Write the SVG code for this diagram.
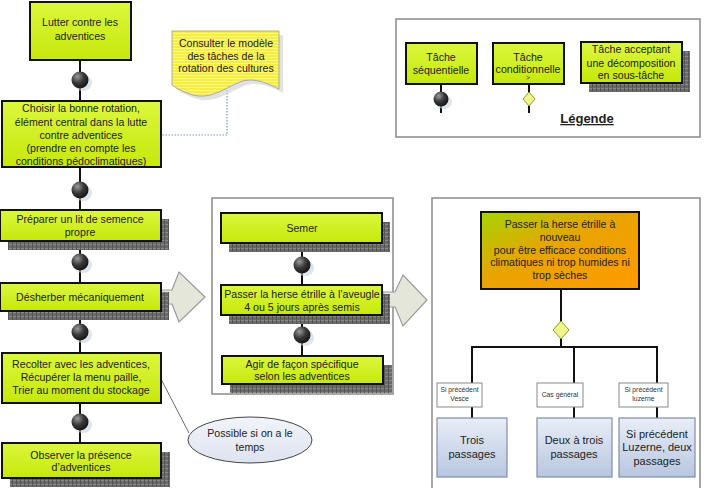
<svg xmlns="http://www.w3.org/2000/svg" width="707" height="488" viewBox="0 0 707 488">
<defs>
<linearGradient id="gTask" x1="0" y1="0" x2="0" y2="1">
<stop offset="0" stop-color="#dcf73e"/>
<stop offset="1" stop-color="#c6e80a"/>
</linearGradient>
<linearGradient id="gOrange" x1="0" y1="0" x2="1" y2="1">
<stop offset="0" stop-color="#a6d400"/>
<stop offset="0.45" stop-color="#e8a400"/>
<stop offset="1" stop-color="#ff9a00"/>
</linearGradient>
<linearGradient id="gBlue" x1="0" y1="0" x2="0" y2="1">
<stop offset="0" stop-color="#e9eef7"/>
<stop offset="1" stop-color="#b7c6df"/>
</linearGradient>
<linearGradient id="gEll" x1="0" y1="0" x2="0" y2="1">
<stop offset="0" stop-color="#f2f4fa"/>
<stop offset="1" stop-color="#dde3f0"/>
</linearGradient>
<radialGradient id="gBead" cx="0.35" cy="0.3" r="0.75">
<stop offset="0" stop-color="#9a9a9a"/>
<stop offset="0.5" stop-color="#3a3a3a"/>
<stop offset="1" stop-color="#111"/>
</radialGradient>
<pattern id="pShadow" width="4" height="4" patternUnits="userSpaceOnUse">
<rect width="4" height="4" fill="#6a6a6a"/>
<rect width="4" height="1" fill="#8a8a8a"/>
<rect width="1" height="4" fill="#555"/>
</pattern>
<pattern id="pNote" width="4" height="3" patternUnits="userSpaceOnUse">
<rect width="4" height="3" fill="#f7ee3a"/>
<rect width="4" height="1" fill="#fbf590"/>
</pattern>
</defs>
<style>
.task{fill:url(#gTask);stroke:#111;stroke-width:2}
.shadow{fill:url(#pShadow)}
.t{font-family:"Liberation Sans",Arial,sans-serif;font-size:10.6px;fill:#222;text-anchor:middle}
.ts{font-family:"Liberation Sans",Arial,sans-serif;font-size:6.8px;fill:#333;text-anchor:middle}
.tb{font-family:"Liberation Sans",Arial,sans-serif;font-size:11px;fill:#222;text-anchor:middle}
.ln{stroke:#111;stroke-width:2;fill:none}
.cont{fill:#fff;stroke:#8a8a8a;stroke-width:1.5}
.bead{fill:url(#gBead)}
.beadsh{fill:#c9d0dc;opacity:0.6}
.dia{fill:#eef58a;stroke:#8a9a20;stroke-width:1}
.blue{fill:url(#gBlue);stroke:#7f8ea8;stroke-width:1.2}
.lab{fill:#fff;stroke:#8a8a8a;stroke-width:1}
.arrow{fill:#e4e6da;stroke:#9a9a9a;stroke-width:1.2}
</style>

<g id="containers">
<rect class="cont" x="396" y="19" width="304" height="118"/>
<rect class="cont" x="212" y="198" width="181" height="196"/>
<rect class="cont" x="432" y="198" width="268" height="292"/>
</g>

<g id="connectors">
<line class="ln" x1="80" y1="60" x2="80" y2="101"/>
<line class="ln" x1="80" y1="167" x2="80" y2="210"/>
<line class="ln" x1="80" y1="241" x2="80" y2="283"/>
<line class="ln" x1="80" y1="311" x2="80" y2="353"/>
<line class="ln" x1="80" y1="403" x2="80" y2="443"/>
<line class="ln" x1="302" y1="243" x2="302" y2="285"/>
<line class="ln" x1="302" y1="315" x2="302" y2="356"/>
<line class="ln" x1="561" y1="289" x2="561" y2="347"/>
<polyline class="ln" points="472,383 472,347 657,347 657,383"/>
<line class="ln" x1="574" y1="347" x2="574" y2="383"/>
<line class="ln" x1="472" y1="407" x2="472" y2="418"/>
<line class="ln" x1="574" y1="407" x2="574" y2="418"/>
<line class="ln" x1="657" y1="407" x2="657" y2="418"/>
<line class="ln" x1="441" y1="84" x2="441" y2="113"/>
<line class="ln" x1="529" y1="84" x2="529" y2="113"/>
<polyline points="227,90 227,135 161,135" fill="none" stroke="#7f93b8" stroke-width="1.2" stroke-dasharray="1.5,1.5"/>
<line x1="161" y1="379" x2="189" y2="433" stroke="#444" stroke-width="0.8"/>
<polygon class="arrow" points="161,290 172,290 179,272 205,297 179,322 172,304 161,304"/>
<polygon class="arrow" points="383,292 395,292 403,275 427,300 403,326 395,307 383,307"/>
</g>

<g id="beads">
<g transform="translate(80,80)"><ellipse class="beadsh" cx="3" cy="3" rx="9" ry="8"/><circle class="bead" r="8.5"/></g>
<g transform="translate(80,190)"><ellipse class="beadsh" cx="3" cy="3" rx="9" ry="8"/><circle class="bead" r="8.5"/></g>
<g transform="translate(80,262)"><ellipse class="beadsh" cx="3" cy="3" rx="9" ry="8"/><circle class="bead" r="8.5"/></g>
<g transform="translate(80,332)"><ellipse class="beadsh" cx="3" cy="3" rx="9" ry="8"/><circle class="bead" r="8.5"/></g>
<g transform="translate(80,422)"><ellipse class="beadsh" cx="3" cy="3" rx="9" ry="8"/><circle class="bead" r="8.5"/></g>
<g transform="translate(302,265)"><ellipse class="beadsh" cx="3" cy="3" rx="9" ry="8"/><circle class="bead" r="8.5"/></g>
<g transform="translate(302,335)"><ellipse class="beadsh" cx="3" cy="3" rx="9" ry="8"/><circle class="bead" r="8.5"/></g>
<g transform="translate(441,99)"><ellipse class="beadsh" cx="3" cy="3" rx="8" ry="7"/><circle class="bead" r="7.5"/></g>
<polygon class="dia" points="561,321 569,330 561,339 553,330"/>
<polygon class="dia" points="529,92 535,99 529,106 523,99"/>
</g>

<g id="n1">
<rect class="task" x="30" y="2" width="101" height="58"/>
<text class="t" x="80" y="26">Lutter contre les</text>
<text class="t" x="80" y="40">adventices</text>
</g>

<g id="note">
<path d="M176,35 H283 V93 C266,84 254,82 244,86 C229,92 214,104 197,99 C187,96 180,92 176,89 Z" fill="#cfcfcf" opacity="0.6"/>
<path d="M172,31 H279 V89 C262,80 250,78 240,82 C225,88 210,100 193,95 C183,92 176,88 172,85 Z" fill="url(#pNote)" stroke="#9a9a9a" stroke-width="0.8"/>
<text class="t" x="226" y="47">Consulter le modèle</text>
<text class="t" x="226" y="60">des tâches de la</text>
<text class="t" x="226" y="72">rotation des cultures</text>
</g>

<g id="n2">
<rect class="task" x="2" y="101" width="159" height="66"/>
<text class="t" x="81" y="112">Choisir la bonne rotation,</text>
<text class="t" x="81" y="126">élément central dans la lutte</text>
<text class="t" x="81" y="139">contre adventices</text>
<text class="t" x="81" y="152">(prendre en compte les</text>
<text class="t" x="81" y="165">conditions pédoclimatiques)</text>
</g>

<g id="n3">
<rect class="shadow" x="8" y="219" width="161" height="31"/>
<rect class="task" x="0" y="210" width="161" height="31"/>
<text class="t" x="80" y="223">Préparer un lit de semence</text>
<text class="t" x="80" y="236">propre</text>
</g>

<g id="n4">
<rect class="shadow" x="8" y="292" width="161" height="28"/>
<rect class="task" x="0" y="283" width="161" height="28"/>
<text class="t" x="80" y="301">Désherber mécaniquement</text>
</g>

<g id="n5">
<rect class="task" x="2" y="353" width="159" height="50"/>
<text class="t" x="81" y="368">Recolter avec les adventices,</text>
<text class="t" x="81" y="381">Récupérer  la menu paille,</text>
<text class="t" x="81" y="394">Trier au moment du stockage</text>
</g>

<g id="n6">
<rect class="shadow" x="10" y="452" width="160" height="35"/>
<rect class="task" x="2" y="443" width="159" height="35"/>
<text class="t" x="81" y="459">Observer la présence</text>
<text class="t" x="81" y="471">d’adventices</text>
</g>

<g id="ellipse">
<ellipse cx="250" cy="440" rx="62" ry="23" fill="url(#gEll)" stroke="#444" stroke-width="1"/>
<text class="t" x="250" y="437">Possible si on a le</text>
<text class="t" x="250" y="451">temps</text>
</g>

<g id="m1">
<rect class="shadow" x="229" y="222" width="161" height="30"/>
<rect class="task" x="221" y="213" width="161" height="30"/>
<text class="t" x="302" y="232">Semer</text>
</g>

<g id="m2">
<rect class="shadow" x="229" y="294" width="161" height="30"/>
<rect class="task" x="221" y="285" width="161" height="30"/>
<text class="t" x="302" y="298">Passer la herse étrille à l’aveugle</text>
<text class="t" x="302" y="311">4 ou 5 jours après semis</text>
</g>

<g id="m3">
<rect class="shadow" x="230" y="365" width="162" height="28"/>
<rect class="task" x="222" y="356" width="161" height="28"/>
<text class="t" x="302" y="368">Agir de façon spécifique</text>
<text class="t" x="302" y="380">selon les adventices</text>
</g>

<g id="r1">
<rect x="481" y="212" width="158" height="77" fill="url(#gOrange)" stroke="#111" stroke-width="2"/>
<text class="t" x="560" y="228">Passer la herse étrille à</text>
<text class="t" x="560" y="241">nouveau</text>
<text class="t" x="560" y="254">pour être efficace conditions</text>
<text class="t" x="560" y="266">climatiques ni trop humides ni</text>
<text class="t" x="560" y="279">trop sèches</text>
</g>

<g id="lab1">
<rect class="lab" x="437" y="383" width="45" height="24"/>
<text class="ts" x="459.5" y="392">Si précédent</text>
<text class="ts" x="459.5" y="401">Vesce</text>
</g>
<g id="lab2">
<rect class="lab" x="537" y="383" width="46" height="24"/>
<text class="ts" x="560" y="397">Cas général</text>
</g>
<g id="lab3">
<rect class="lab" x="619" y="383" width="49" height="24"/>
<text class="ts" x="643.5" y="392">Si précédent</text>
<text class="ts" x="643.5" y="401">luzerne</text>
</g>

<g id="b1">
<rect class="blue" x="437" y="418" width="70" height="59"/>
<text class="tb" x="472" y="444">Trois</text>
<text class="tb" x="472" y="458">passages</text>
</g>
<g id="b2">
<rect class="blue" x="537" y="418" width="75" height="59"/>
<text class="tb" x="574" y="444">Deux à trois</text>
<text class="tb" x="574" y="458">passages</text>
</g>
<g id="b3">
<rect class="blue" x="619" y="418" width="76" height="59"/>
<text class="tb" x="657" y="438">Si précédent</text>
<text class="tb" x="657" y="451">Luzerne, deux</text>
<text class="tb" x="657" y="465">passages</text>
</g>

<g id="leg1">
<rect class="task" x="406" y="43" width="71" height="41"/>
<text class="t" x="441" y="61">Tâche</text>
<text class="t" x="441" y="74">séquentielle</text>
</g>
<g id="leg2">
<rect class="task" x="493" y="43" width="71" height="41"/>
<text class="t" x="528" y="61">Tâche</text>
<text class="t" x="528" y="73">conditionnelle</text>
<text class="ts" x="528" y="80">&gt;</text>
</g>
<g id="leg3">
<rect class="shadow" x="589" y="51" width="101" height="41"/>
<rect class="task" x="581" y="42" width="101" height="41"/>
<text class="t" x="631" y="53">Tâche acceptant</text>
<text class="t" x="631" y="67">une décomposition</text>
<text class="t" x="631" y="79">en sous-tâche</text>
</g>
<g id="legtitle">
<text x="587" y="123" font-family="'Liberation Sans',Arial,sans-serif" font-size="13" font-weight="bold" fill="#222" text-anchor="middle" text-decoration="underline">Légende</text>
</g>
</svg>
